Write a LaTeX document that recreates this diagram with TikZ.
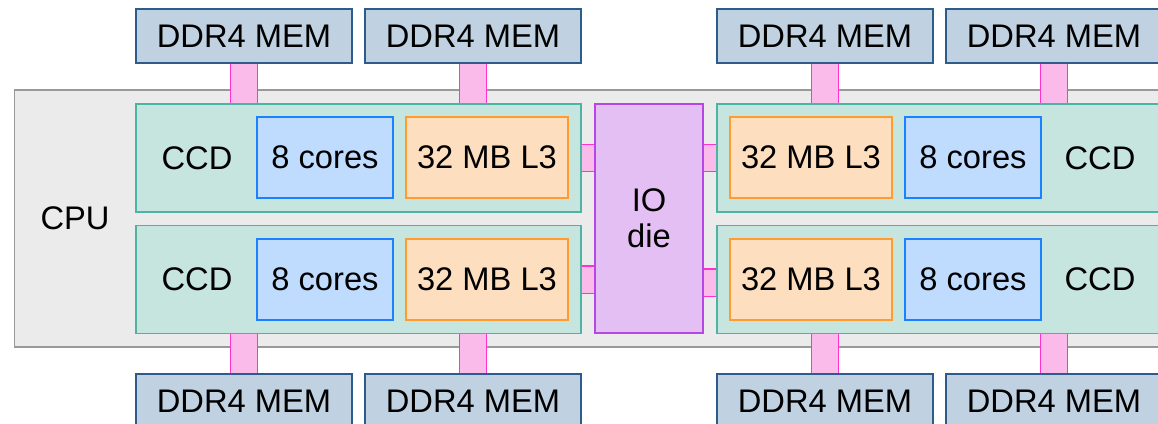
\documentclass[tikz,border=0pt]{standalone}
\usepackage{fontspec}
\setmainfont{Liberation Sans}
\usepackage{xcolor}
\usetikzlibrary{positioning}

\definecolor{memfill}{HTML}{C0D2E2}
\definecolor{memdraw}{HTML}{2E5C8A}
\definecolor{cpufill}{HTML}{EBEBEB}
\definecolor{cpudraw}{HTML}{999999}
\definecolor{ccdfill}{HTML}{C6E5DF}
\definecolor{ccddraw}{HTML}{4DB3A4}
\definecolor{corefill}{HTML}{BFDCFF}
\definecolor{coredraw}{HTML}{1A82FF}
\definecolor{cachefill}{HTML}{FDDFC0}
\definecolor{cachedraw}{HTML}{FF9B2F}
\definecolor{iofill}{HTML}{E4BFF4}
\definecolor{iodraw}{HTML}{B845E6}
\definecolor{linkfill}{HTML}{FBBBEA}
\definecolor{linkdraw}{HTML}{FF33CC}

\begin{document}
\begin{tikzpicture}[
  x=0.02cm, y=-0.02cm,
  every node/.style={font=\fontsize{18.6}{20.5}\selectfont},
  membox/.style={rectangle, draw=memdraw, fill=memfill, line width=0.7pt,
    minimum width=4.32cm, minimum height=1.08cm, inner sep=0pt},
  cpubox/.style={rectangle, draw=cpudraw, fill=cpufill, line width=0.7pt,
    minimum width=23.16cm, minimum height=5.14cm, inner sep=0pt},
  ccdbox/.style={rectangle, draw=ccddraw, fill=ccdfill, line width=0.7pt,
    minimum width=8.9cm, minimum height=2.16cm, inner sep=0pt},
  corebox/.style={rectangle, draw=coredraw, fill=corefill, line width=0.7pt,
    minimum width=2.72cm, minimum height=1.62cm, inner sep=0pt},
  cachebox/.style={rectangle, draw=cachedraw, fill=cachefill, line width=0.7pt,
    minimum width=3.24cm, minimum height=1.62cm, inner sep=0pt},
  iobox/.style={rectangle, draw=iodraw, fill=iofill, line width=0.7pt,
    minimum width=2.16cm, minimum height=4.58cm, inner sep=0pt, align=center},
  link/.style={draw=linkdraw, line width=0.7pt, double=linkfill, double distance=0.52cm}
]
  \useasboundingbox (0,0) rectangle (1158,423);
  \clip (0,0) rectangle (1158,423);

  \node[cpubox] (cpu) at (593, 218.5) {};
  \node (cpulbl) at (75, 218) {CPU};

  % memory channels
  \node[membox] (mt1) at (244, 36)  {DDR4 MEM};
  \node[membox] (mt2) at (473, 36)  {DDR4 MEM};
  \node[membox] (mt3) at (825, 36)  {DDR4 MEM};
  \node[membox] (mt4) at (1054, 36) {DDR4 MEM};
  \node[membox] (mb1) at (244, 401)  {DDR4 MEM};
  \node[membox] (mb2) at (473, 401)  {DDR4 MEM};
  \node[membox] (mb3) at (825, 401)  {DDR4 MEM};
  \node[membox] (mb4) at (1054, 401) {DDR4 MEM};

  % chiplets
  \node[ccdbox] (ccd1) at (358.5, 158)   {};
  \node[ccdbox] (ccd2) at (358.5, 279.5) {};
  \node[ccdbox] (ccd3) at (939.5, 158)   {};
  \node[ccdbox] (ccd4) at (939.5, 279.5) {};
  \node (lbl1) at (197, 158)    {CCD};
  \node (lbl2) at (197, 279.5)  {CCD};
  \node (lbl3) at (1100, 158)   {CCD};
  \node (lbl4) at (1100, 279.5) {CCD};

  \node[corebox]  (core1) at (325, 157.5) {8 cores};
  \node[corebox]  (core2) at (325, 279.5) {8 cores};
  \node[corebox]  (core3) at (973, 157.5) {8 cores};
  \node[corebox]  (core4) at (973, 279.5) {8 cores};
  \node[cachebox] (l3a) at (487, 157.5) {32 MB L3};
  \node[cachebox] (l3b) at (487, 279.5) {32 MB L3};
  \node[cachebox] (l3c) at (811, 157.5) {32 MB L3};
  \node[cachebox] (l3d) at (811, 279.5) {32 MB L3};

  \node[iobox] (io) at (649, 218.5) {IO\\die};

  % links
  \draw[link] (mt1.south) -- (mt1.south |- ccd1.north);
  \draw[link] (mt2.south) -- (mt2.south |- ccd1.north);
  \draw[link] (mt3.south) -- (mt3.south |- ccd3.north);
  \draw[link] (mt4.south) -- (mt4.south |- ccd3.north);
  \draw[link] (mb1.north) -- (mb1.north |- ccd2.south);
  \draw[link] (mb2.north) -- (mb2.north |- ccd2.south);
  \draw[link] (mb3.north) -- (mb3.north |- ccd4.south);
  \draw[link] (mb4.north) -- (mb4.north |- ccd4.south);
  \draw[link] (ccd1.east) -- (ccd1.east -| io.west);
  \draw[link] (ccd2.east) -- (ccd2.east -| io.west);
  \draw[link] (ccd3.west) -- (ccd3.west -| io.east);
  \draw[link] ([yshift=-0.06cm]ccd4.west) -- ([yshift=-0.06cm]ccd4.west -| io.east);
\end{tikzpicture}
\end{document}
